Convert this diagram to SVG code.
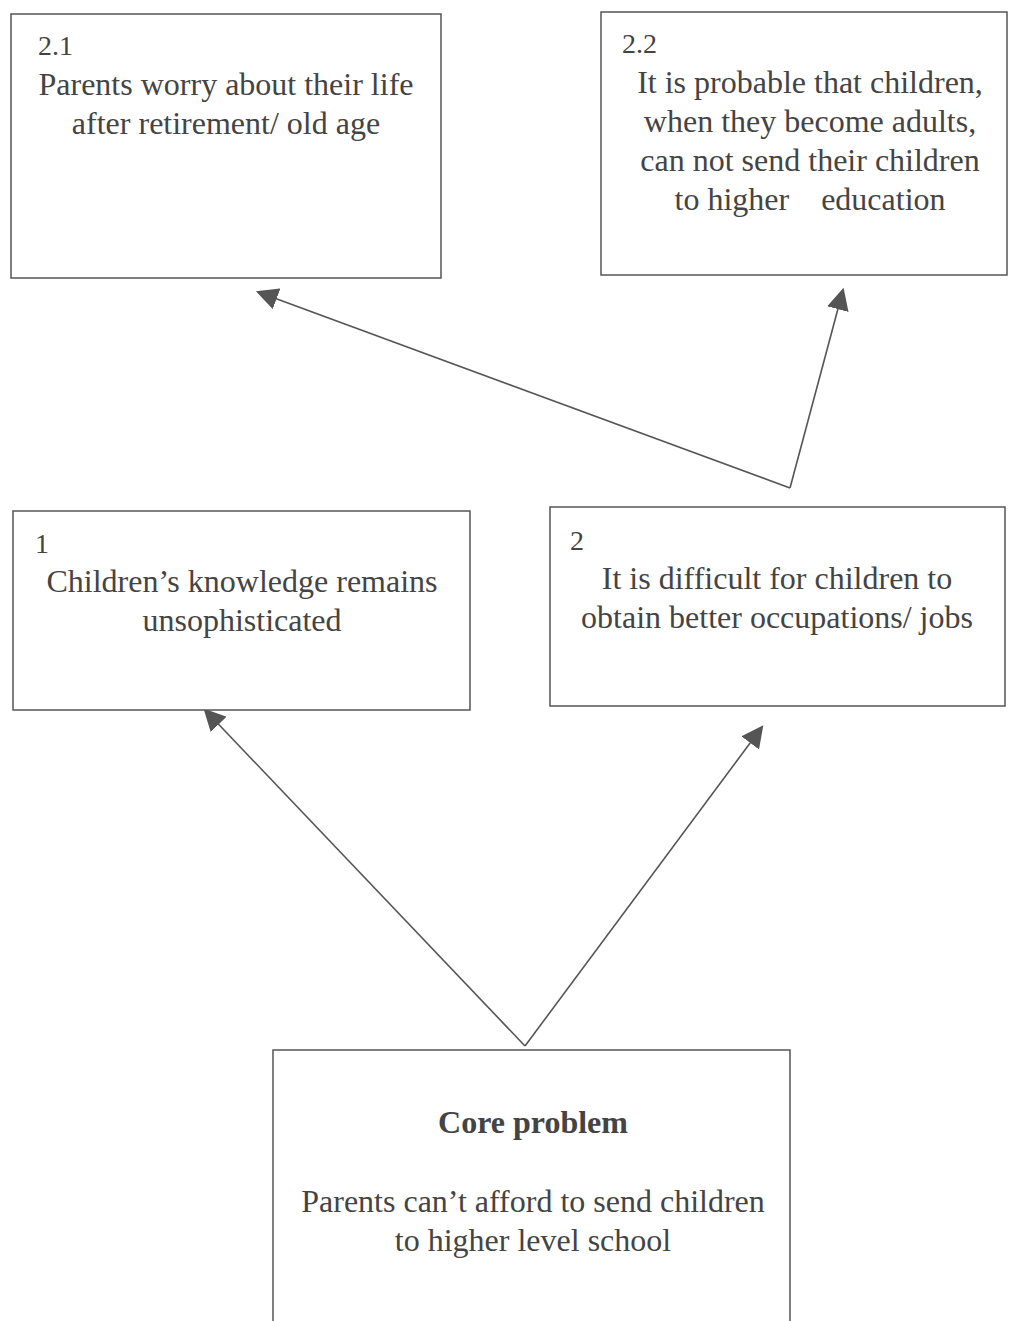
<svg xmlns="http://www.w3.org/2000/svg" width="1009" height="1321" viewBox="0 0 1009 1321">
<style>
.box{fill:#fff;stroke:#555;stroke-width:1.5}
.t{font-family:"Liberation Serif","Times New Roman",serif;font-size:32px;fill:#444}
.n{font-family:"Liberation Serif","Times New Roman",serif;font-size:28px;fill:#444}
.c{text-anchor:middle}
.b{font-weight:bold}
.ln{fill:none;stroke:#555;stroke-width:1.6}
</style>
<defs>
<marker id="ah2" viewBox="0 0 10 10" refX="9" refY="5" markerWidth="22" markerHeight="22" markerUnits="userSpaceOnUse" orient="auto">
<path d="M0,0 L10,5 L0,10 z" fill="#555"/>
</marker>
</defs>
<rect width="1009" height="1321" fill="#fff"/>
<g id="connectors">
<path class="ln" d="M790,488 L258,292" marker-end="url(#ah2)"/>
<path class="ln" d="M790,488 L843,290" marker-end="url(#ah2)"/>
<path class="ln" d="M525,1046 L205,710" marker-end="url(#ah2)"/>
<path class="ln" d="M525,1046 L762,727" marker-end="url(#ah2)"/>
</g>
<g id="n21">
<rect class="box" x="11" y="14" width="430" height="264"/>
<text class="n" x="38" y="55">2.1</text>
<text class="t c" x="226" y="95">Parents worry about their life</text>
<text class="t c" x="226" y="134">after retirement/ old age</text>
</g>
<g id="n22">
<rect class="box" x="601" y="12" width="406" height="263"/>
<text class="n" x="622" y="53">2.2</text>
<text class="t c" x="810" y="93">It is probable that children,</text>
<text class="t c" x="810" y="132">when they become adults,</text>
<text class="t c" x="810" y="171">can not send their children</text>
<text class="t c" x="810" y="210" xml:space="preserve">to higher    education</text>
</g>
<g id="n1">
<rect class="box" x="13" y="511" width="457" height="199"/>
<text class="n" x="35" y="553">1</text>
<text class="t c" x="242" y="592">Children’s knowledge remains</text>
<text class="t c" x="242" y="631">unsophisticated</text>
</g>
<g id="n2">
<rect class="box" x="550" y="507" width="455" height="199"/>
<text class="n" x="570" y="550">2</text>
<text class="t c" x="777" y="589">It is difficult for children to</text>
<text class="t c" x="777" y="628">obtain better occupations/ jobs</text>
</g>
<g id="core">
<rect class="box" x="273" y="1050" width="517" height="290"/>
<text class="t c b" x="533" y="1133">Core problem</text>
<text class="t c" x="533" y="1212">Parents can’t afford to send children</text>
<text class="t c" x="533" y="1251">to higher level school</text>
</g>
</svg>
